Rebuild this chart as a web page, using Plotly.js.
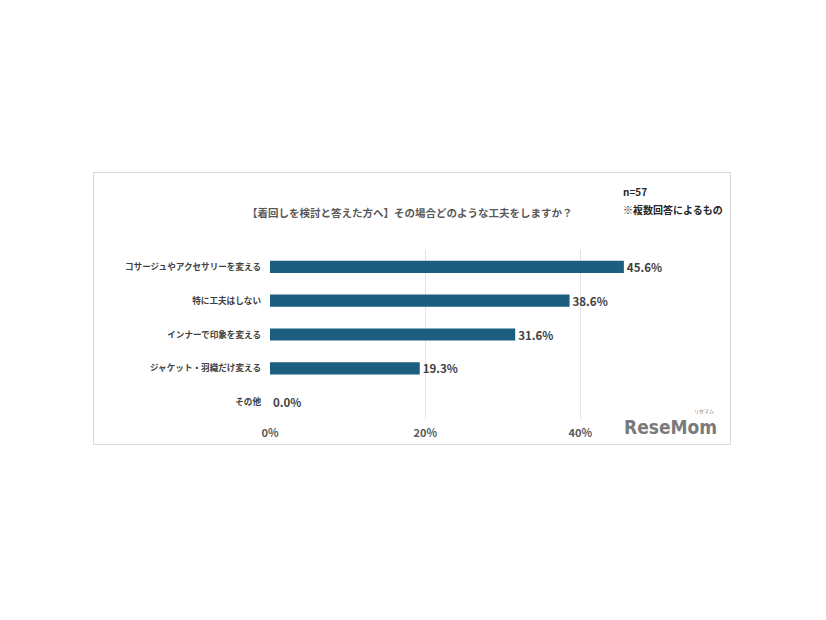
<!DOCTYPE html>
<html><head><meta charset="utf-8">
<script src="https://cdn.plot.ly/plotly-3.0.1.min.js"></script>
<style>
html,body{margin:0;padding:0;background:#fff;}
#frame{position:absolute;left:93px;top:172px;width:638px;height:273px;border:1px solid #d9d9d9;box-sizing:border-box;}
#chart{position:absolute;left:0;top:0;width:826px;height:620px;}
</style></head>
<body>
<div id="frame"></div>
<div id="chart"></div>
<script>
var categories = ["コサージュやアクセサリーを変える","特に工夫はしない","インナーで印象を変える","ジャケット・羽織だけ変える","その他"];
var values = [45.6, 38.6, 31.6, 19.3, 0.0];
var tickVals = [0, 20, 40];
var tickLabels = ["0%", "20%", "40%"];

var font = "'Noto Sans CJK JP', 'Noto Sans', sans-serif";
var trace = {
  type: 'bar', orientation: 'h',
  x: values, y: categories,
  marker: {color: '#1b5e80'},
  width: 0.36,
  text: values.map(function(v){return v.toFixed(1) + '%';}),
  textposition: 'outside',
  constraintext: 'none',
  textfont: {family: font, size: 11.5, color: '#404040', weight: 'bold'},
  cliponaxis: false,
  hoverinfo: 'none'
};
var layout = {
  width: 826, height: 620,
  margin: {l: 270, r: 168, t: 250, b: 201, pad: 0},
  paper_bgcolor: 'rgba(0,0,0,0)', plot_bgcolor: 'rgba(0,0,0,0)',
  showlegend: false,
  xaxis: {range: [0, 50], tickvals: tickVals, ticktext: tickLabels, showgrid: true,
    gridcolor: '#e3e3e3', gridwidth: 1, zeroline: false, showline: false, ticks: '',
    tickfont: {family: font, size: 11, color: '#595959', weight: 'bold'}, ticklabelstandoff: 6, fixedrange: true},
  yaxis: {autorange: 'reversed', showgrid: false, zeroline: false, showline: false, ticks: '',
    tickfont: {family: font, size: 8.6, color: '#404040', weight: 'bold'}, ticklabelstandoff: 8, fixedrange: true},
  annotations: [
    {text: '【着回しを検討と答えた方へ】その場合どのような工夫をしますか？', xref: 'paper', yref: 'paper',
      x: (410-270)/388, y: (419-212)/169, xanchor: 'center', yanchor: 'middle', showarrow: false,
      font: {family: font, size: 10.5, color: '#595959', weight: 'bold'}},
    {text: 'n=57', xref: 'paper', yref: 'paper', x: (621-270)/388, y: (419-191)/169,
      xanchor: 'left', yanchor: 'middle', showarrow: false,
      font: {family: font, size: 10, color: '#262626', weight: 'bold'}},
    {text: '※複数回答によるもの', xref: 'paper', yref: 'paper', x: (621-270)/388, y: (419-209)/169,
      xanchor: 'left', yanchor: 'middle', showarrow: false,
      font: {family: font, size: 10, color: '#262626', weight: 'bold'}},
    {text: 'ReseMom', xref: 'paper', yref: 'paper', x: (622-270)/388, y: (419-427)/169,
      xanchor: 'left', yanchor: 'middle', showarrow: false,
      font: {family: "'DejaVu Sans Condensed', 'DejaVu Sans', sans-serif", size: 19, color: '#7a7a7a', weight: 'bold'}},
    {text: 'リセマム', xref: 'paper', yref: 'paper', x: (716-270)/388, y: (419-411)/169,
      xanchor: 'right', yanchor: 'middle', showarrow: false,
      font: {family: font, size: 5, color: '#7a7a7a'}}
  ]
};
Plotly.newPlot('chart', [trace], layout, {staticPlot: true, displayModeBar: false});
</script>
</body></html>
